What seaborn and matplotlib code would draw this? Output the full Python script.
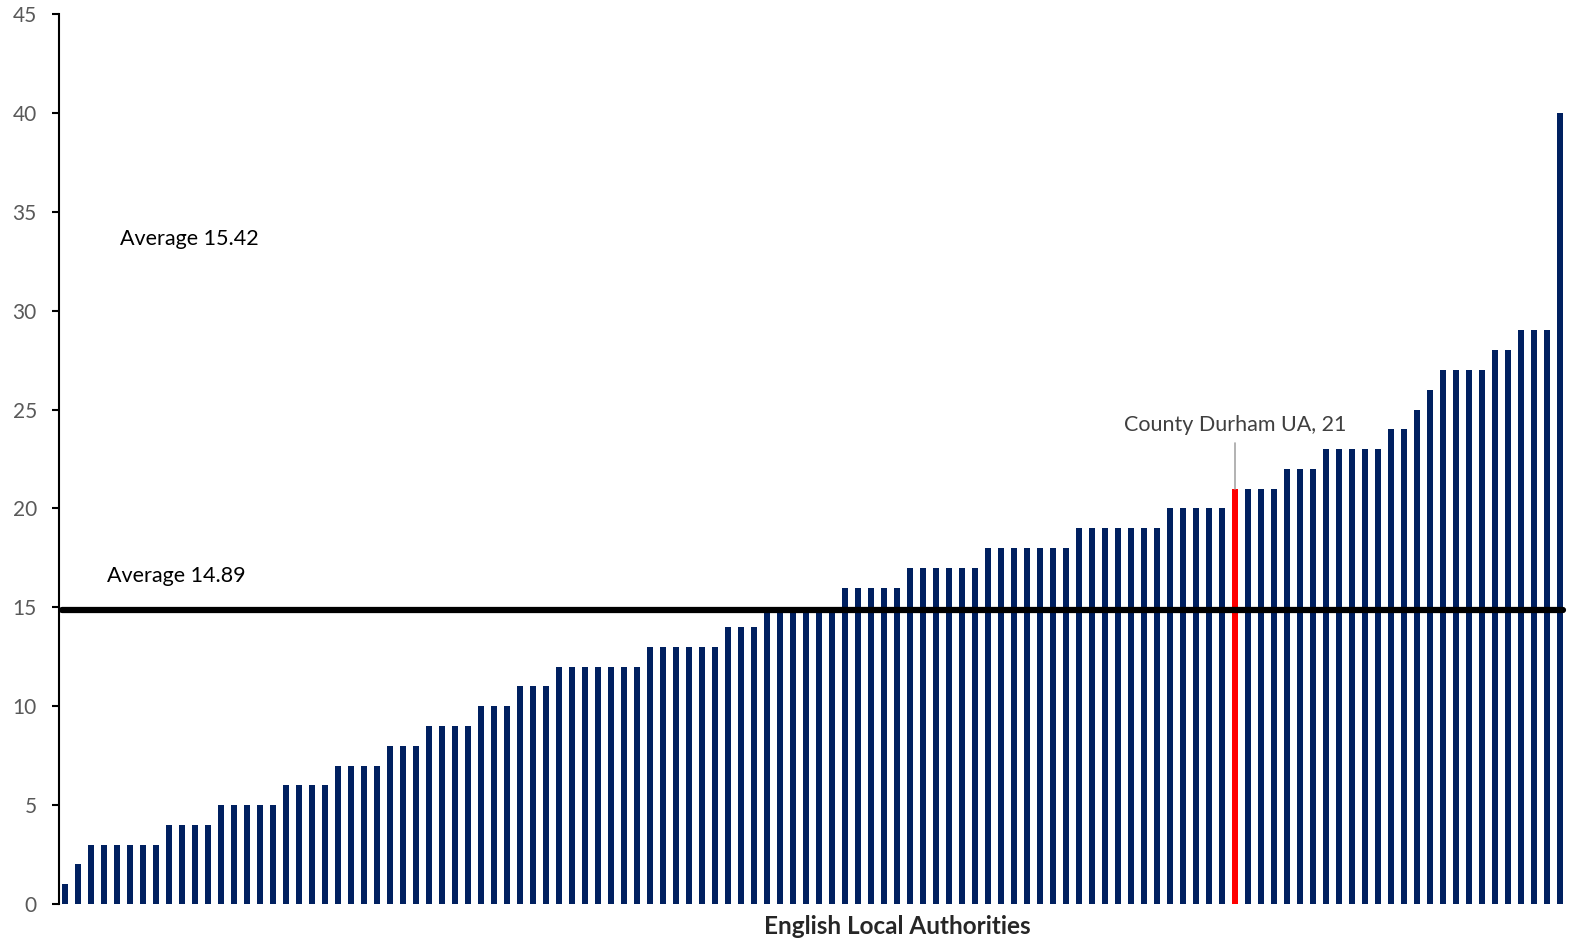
import numpy as np
import pandas as pd
import seaborn as sns
import matplotlib.pyplot as plt

# Values per local authority, sorted ascending
values = ([1, 2] + [3] * 6 + [4] * 4 + [5] * 5 + [6] * 4 + [7] * 4 + [8] * 3
          + [9] * 4 + [10] * 3 + [11] * 3 + [12] * 7 + [13] * 6 + [14] * 3
          + [15] * 6 + [16] * 5 + [17] * 6 + [18] * 7 + [19] * 7 + [20] * 5
          + [21] * 4 + [22] * 3 + [23] * 5 + [24] * 2 + [25, 26] + [27] * 4
          + [28] * 2 + [29] * 3 + [40])
durham_index = 90
durham_label = "County Durham UA, 21"
average_value = 14.89
average_label = "Average 14.89"
other_average_label = "Average 15.42"
x_title = "English Local Authorities"
y_ticks = list(range(0, 50, 5))

NAVY = "#002060"
RED = "#FF0000"

df = pd.DataFrame({
    "authority": [f"LA{i:03d}" for i in range(len(values))],
    "value": values,
})
df["group"] = ["Durham" if i == durham_index else "Other" for i in range(len(values))]

sns.set_style("white")
plt.rcParams["font.family"] = ["Lato", "DejaVu Sans"]

fig = plt.figure(figsize=(15.73, 9.44), dpi=100)
ax = fig.add_axes([59 / 1573, 1 - 904 / 944, 1504 / 1573, 890 / 944])

sns.barplot(data=df, x="authority", y="value", hue="group",
            palette={"Other": NAVY, "Durham": RED}, dodge=False,
            width=0.46, legend=False, ax=ax, saturation=1, linewidth=0)

x_right = len(values) - 1 + 0.2
ax.set_xlim(-0.46, x_right)
ax.set_ylim(0, 45)
ax.set_yticks(y_ticks)
ax.set_yticklabels([str(t) for t in y_ticks], color="#595959", fontsize=15)
ax.tick_params(axis="y", length=5, width=1.5, color="black", pad=11, left=True)
ax.set_xticks([])
ax.set_xlabel("")
ax.set_ylabel("")

for side in ["top", "right", "bottom"]:
    ax.spines[side].set_visible(False)
ax.spines["left"].set_color("black")
ax.spines["left"].set_linewidth(1.5)

# average line
ax.plot([-0.22, x_right], [average_value, average_value],
        color="black", linewidth=4.5, solid_capstyle="round", zorder=5, clip_on=False)

ax.text(3.2, 16.6, average_label, fontsize=15.5, color="black", va="center")
ax.text(4.2, 33.6, other_average_label, fontsize=15.5, color="black", va="center")

# County Durham annotation
ax.plot([durham_index, durham_index], [21, 23.3], color="#A6A6A6", linewidth=1.2)
ax.text(durham_index, 24.2, durham_label, fontsize=15.5, color="#404040",
        ha="center", va="center")

fig.text(897 / 1573, 1 - 926 / 944, x_title, fontsize=17.5, fontweight="bold",
         ha="center", va="center")

fig.savefig("out.png", dpi=100)
